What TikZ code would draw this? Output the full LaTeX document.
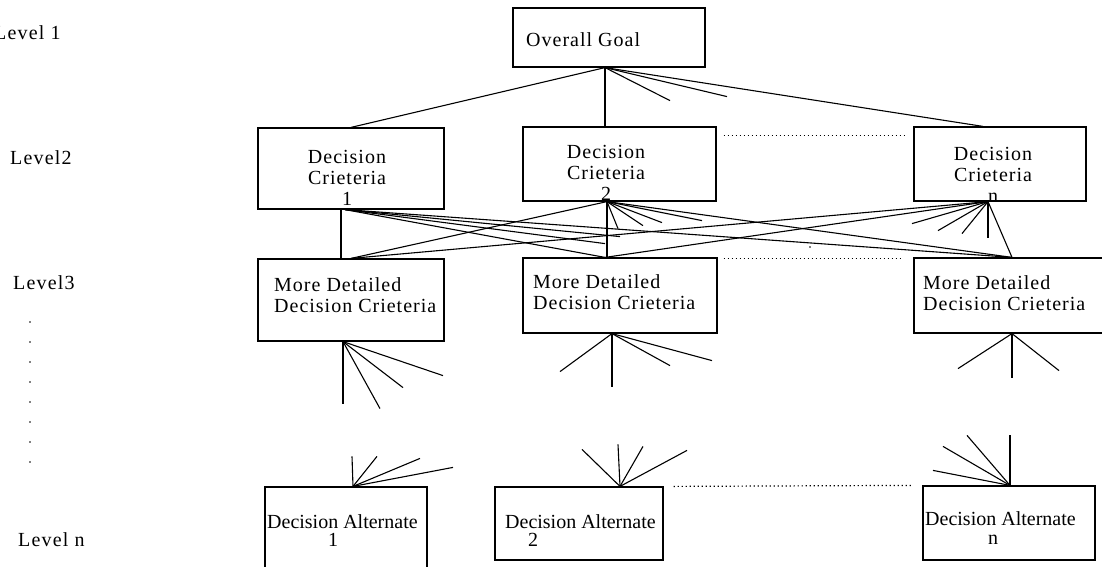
\documentclass[tikz,border=0pt]{standalone}
\usepackage{fontspec}
\setmainfont{Liberation Serif}
\usetikzlibrary{positioning}

\begin{document}
\begin{tikzpicture}[
  x=1pt, y=-1pt,
  box/.style={draw, line width=1.2pt, rectangle, inner sep=0pt},
  txt/.style={font=\fontsize{20}{21}\selectfont\addfontfeature{LetterSpace=5},
              inner sep=0pt, align=center},
  ltxt/.style={txt, align=left, anchor=west},
  alt/.style={font=\fontsize{20}{21}\selectfont, inner sep=0pt, align=left, anchor=west},
  lvl/.style={font=\fontsize{20}{21}\selectfont\addfontfeature{LetterSpace=6},
              inner sep=0pt, anchor=west},
  wire/.style={line width=1.1pt},
  gap/.style={line width=1.2pt, dash pattern=on 1.2pt off 2.8pt}
]
\path[use as bounding box] (0,0) rectangle (1102,567);
\clip (0,0) rectangle (1102,567);

% level names
\node[lvl] (lv1) at (-6,33)  {Level 1};
\node[lvl] (lv2) at (10,158) {Level2};
\node[lvl] (lv3) at (13,283) {Level3};
\node[lvl] (lvn) at (18,540) {Level n};
\foreach \k in {0,...,7}
  \fill (30,{322+20*\k}) circle (0.8);

% boxes
\node[box, minimum width=192, minimum height=59] (goal) at (609,37.5) {};
\node[box, minimum width=186, minimum height=81] (dc1)  at (351,168.5) {};
\node[box, minimum width=193, minimum height=74] (dc2)  at (619.5,164) {};
\node[box, minimum width=172, minimum height=74] (dcn)  at (1000,164) {};
\node[box, minimum width=186, minimum height=82] (mdc1) at (351,300) {};
\node[box, minimum width=194, minimum height=75] (mdc2) at (620,295.5) {};
\node[box, minimum width=192, minimum height=75] (mdcn) at (1010,295.5) {};
\node[box, minimum width=162, minimum height=92] (da1)  at (346,533) {};
\node[box, minimum width=168, minimum height=73] (da2)  at (579,523.5) {};
\node[box, minimum width=172, minimum height=74] (dan)  at (1009,523) {};

% box texts
\node[ltxt] (goalt) at (526,40) {Overall Goal};
\node[txt] (dc1t) at (347,178) {Decision\\Crieteria\\1};
\node[txt] (dc2t) at (606,173) {Decision\\Crieteria\\2};
\node[txt] (dcnt) at (993,174.5) {Decision\\Crieteria\\n};
\node[ltxt] (mdc1t) at (274,295.5) {More Detailed\\Decision Crieteria};
\node[ltxt] (mdc2t) at (533,292) {More Detailed\\Decision Crieteria};
\node[ltxt] (mdcnt) at (923,293) {More Detailed\\Decision Crieteria};
\node[alt] (da1t) at (267,531) {Decision Alternate\\[-3pt]\hspace*{61pt}1};
\node[alt] (da2t) at (505,531) {Decision Alternate\\[-3pt]\hspace*{23pt}2};
\node[alt] (dant) at (925,528) {Decision Alternate\\[-2pt]\hspace*{63pt}n};

% fan points
\coordinate (g)  at ([xshift=-4]goal.south);
\coordinate (p1) at ([xshift=-6]dc1.south);
\coordinate (p2) at ([xshift=-12.5]dc2.south);
\coordinate (pn) at ([xshift=-12]dcn.south);
\coordinate (t1) at (mdc1.north);
\coordinate (t2) at ([xshift=-15]mdc2.north);
\coordinate (tn) at ([xshift=2]mdcn.north);
\coordinate (q1) at ([xshift=-8]mdc1.south);
\coordinate (q2) at ([xshift=-8]mdc2.south);
\coordinate (qn) at ([xshift=2]mdcn.south);
\coordinate (r1) at ([xshift=7]da1.north);
\coordinate (r2) at ([xshift=41]da2.north);
\coordinate (rn) at ([xshift=1]dan.north);

% goal to criteria
\draw[wire] (g) -- (dc1.north);
\draw[wire] (g) -- (g |- dc2.north);
\draw[wire] (g) -- ([xshift=-17]dcn.north);
\foreach \dx/\dy in {65/33, 122/29}
  \draw[wire] (g) -- ++(\dx,\dy);

% criteria to detailed criteria
\draw[wire] ([xshift=-10]dc1.south) -- ([xshift=-10]mdc1.north);
\draw[wire] (p2) -- (p2 |- mdc2.north);
\foreach \a/\b in {p1/t2, p1/tn, p2/t1, p2/tn, pn/t1, pn/t2, pn/tn}
  \draw[wire] (\a) -- (\b);
\foreach \dx/\dy in {275/27, 260/34}
  \draw[wire] (p1) -- ++(\dx,\dy);
\foreach \dx/\dy in {11/27, 36/24, 55/21, 95/19}
  \draw[wire] (p2) -- ++(\dx,\dy);
\foreach \dx/\dy in {-76/22, -50/29, -26/32, 0/36}
  \draw[wire] (pn) -- ++(\dx,\dy);
\fill (810,247) circle (0.8);

% detailed criteria going down
\foreach \dx/\dy in {0/62, 37/67, 60/46, 100/34}
  \draw[wire] (q1) -- ++(\dx,\dy);
\foreach \dx/\dy in {0/53, -52/38, 58/32, 100/27}
  \draw[wire] (q2) -- ++(\dx,\dy);
\foreach \dx/\dy in {0/44, -54/35, 47/37}
  \draw[wire] (qn) -- ++(\dx,\dy);

% alternates coming up
\foreach \dx/\dy in {-1/-30, 24/-30, 67/-28, 100/-19}
  \draw[wire] (r1) -- ++(\dx,\dy);
\foreach \dx/\dy in {-2/-42, -38/-37, 23/-40, 67/-36}
  \draw[wire] (r2) -- ++(\dx,\dy);
\foreach \dx/\dy in {0/-50, -43/-50, -67/-39, -77/-15}
  \draw[wire] (rn) -- ++(\dx,\dy);

% more boxes in between
\draw[gap] ([xshift=7,yshift=-9]dc2.north east) -- ([xshift=-8,yshift=-9]dcn.north west);
\draw[gap] ([xshift=6,yshift=-1]mdc2.north east) -- ([xshift=-12,yshift=-1]mdcn.north west);
\draw[gap] ([xshift=10]da2.north east) -- ([xshift=-11]dan.north west);
\end{tikzpicture}
\end{document}
